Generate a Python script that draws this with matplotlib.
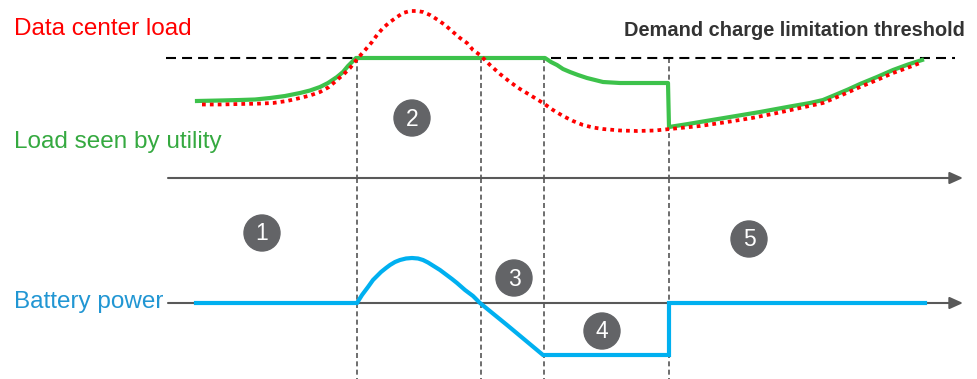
import matplotlib.pyplot as plt
from matplotlib.patches import Circle

plt.rcParams['font.family'] = ['Liberation Sans', 'DejaVu Sans']

W, H = 977, 379

# time positions of the phase boundaries
phase_edges = [357, 481, 544, 669]
threshold = 120

# data center load (red dotted)
dc_t = [202, 220, 240, 257, 273, 287, 300, 310, 320, 329, 337, 344, 350, 354, 358,
        366, 372, 377, 383, 390, 397, 403, 410, 417, 423, 430, 438, 445, 453, 460,
        467, 473, 480, 490, 500, 510, 520, 530, 543, 553, 563, 573, 583, 593, 603,
        620, 637, 655, 670, 685, 700, 727, 752, 777, 800, 823, 842, 860, 877, 893,
        907, 920]
dc_load = [73.5, 73.5, 74, 74.3, 75, 77, 80, 82.5, 86, 91, 98, 104, 110, 115, 120,
           129, 136, 143, 150, 156, 161, 165, 167, 167, 166, 163, 158, 153, 146, 140,
           135, 128, 123, 113, 104, 96, 89, 83, 75, 68, 62, 57, 53, 50.5, 49,
           47.5, 47, 47.5, 49, 50.5, 52, 56, 60, 65, 70, 75, 83, 91, 98, 105,
           110, 115]

# load seen by utility (green)
ut_t = [197, 220, 240, 255, 270, 285, 300, 310, 320, 328, 337, 343, 348, 352, 356,
        545, 551, 557, 563, 570, 578, 587, 595, 603, 620, 637, 668,
        669, 685, 700, 730, 760, 790, 810, 823, 835, 848, 860, 877, 893, 908, 922]
ut_load = [77, 77.5, 78, 78.5, 80, 82, 85, 87.5, 91, 95, 101, 106, 112, 116, 120,
           120, 116, 113, 109, 106, 103, 100, 98, 96, 95, 95, 95,
           51, 53.5, 56, 61, 66, 71.5, 75, 78, 83, 88.5, 94, 101, 108, 113.5, 118]

# battery power (blue)
bat_t = [196, 357, 362, 368, 373, 377, 381, 386, 390, 395, 400, 406, 412, 418, 423,
         428, 432, 436, 440, 444, 448, 452, 457, 461, 465, 469, 473, 477, 480,
         507, 525, 543, 669, 669, 925]
bat_power = [0, 0, 8, 16, 23, 27, 31, 35, 38, 41, 43, 44.5, 45, 44.5, 43,
             40.5, 38, 35.5, 33, 30, 27, 24, 20, 16.5, 13, 10, 7, 3, 0,
             -22, -37, -52, -52, 0, 0]

phase_labels = ['1', '2', '3', '4', '5']
phase_xy = [(262, 233), (412, 118), (514, 278), (602, 331), (749, 239)]

axis_color = '#595959'
red = '#ff0000'
green_line = '#3dc24b'
blue_line = '#00b0f0'

fig = plt.figure(figsize=(W / 100, H / 100), dpi=100)


def panel(top_px, bottom_px, zero_px):
    ax = fig.add_axes([0, 1 - bottom_px / H, 1, (bottom_px - top_px) / H])
    ax.set_xlim(0, W)
    ax.set_ylim(zero_px - bottom_px, zero_px - top_px)
    ax.axis('off')
    return ax


ax_load = panel(0, 178, 178)
ax_bat = panel(178, H, 303)

for ax in (ax_load, ax_bat):
    ax.annotate('', xy=(963, 0), xytext=(168, 0), annotation_clip=False,
                arrowprops=dict(arrowstyle='-|>,head_length=0.8,head_width=0.36',
                                mutation_scale=10, color=axis_color, lw=1.5,
                                shrinkA=0, shrinkB=0))

# phase boundaries
for x in phase_edges:
    ax_load.plot([x, x], [threshold, 0], color='#555555', lw=1.2,
                 ls=(0, (3, 2)), clip_on=False, zorder=1)
    ax_bat.plot([x, x], [ax_bat.get_ylim()[1], ax_bat.get_ylim()[0]],
                color='#555555', lw=1.2, ls=(0, (3, 2)), clip_on=False, zorder=1)

ax_load.plot([166, 955], [threshold, threshold], color='black', lw=1.5,
             ls=(0, (4.8, 2.9)), clip_on=False, zorder=2)

ax_load.plot(ut_t, ut_load, color=green_line, lw=3, solid_joinstyle='round',
             clip_on=False, zorder=3)
ax_load.plot(dc_t, dc_load, color=red, lw=2.7, ls=(0, (1, 1.1)),
             dash_capstyle='butt', clip_on=False, zorder=4)

ax_bat.plot(bat_t, bat_power, color=blue_line, lw=3, solid_joinstyle='miter',
            clip_on=False, zorder=3)

# labels and phase markers
ax_note = fig.add_axes([0, 0, 1, 1])
ax_note.set_xlim(0, W)
ax_note.set_ylim(H, 0)
ax_note.axis('off')

ax_note.text(14, 35, 'Data center load', color=red, fontsize=17.5, va='baseline')
ax_note.text(14, 148, 'Load seen by utility', color='#35a940', fontsize=17.5,
             va='baseline')
ax_note.text(14, 308, 'Battery power', color='#2196d3', fontsize=17.5,
             va='baseline')
ax_note.text(965, 36, 'Demand charge limitation threshold', color='#333333',
             fontsize=14.4, fontweight='bold', ha='right', va='baseline')

for lab, (cx, cy) in zip(phase_labels, phase_xy):
    ax_note.add_patch(Circle((cx, cy), 18, color='#636467', zorder=5))
    ax_note.text(cx, cy + 1, lab, color='white', fontsize=16.5, ha='center',
                 va='center', zorder=6)

fig.savefig('out.png', dpi=100)
